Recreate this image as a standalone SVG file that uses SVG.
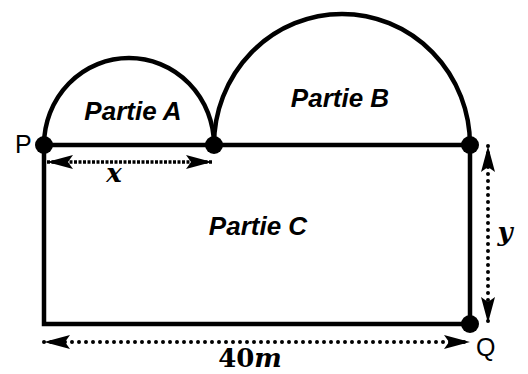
<svg xmlns="http://www.w3.org/2000/svg" width="528" height="374" viewBox="0 0 528 374">
  <defs>
    <style>
      .edge { fill: none; stroke: #000; stroke-width: 4.5; stroke-linecap: round; }
      .dot { fill: #000; }
      .lbl { font-family: "Liberation Sans", Arial, sans-serif; font-weight: bold; font-style: italic; font-size: 26px; fill: #000; }
      .pt { font-family: "Liberation Sans", Arial, sans-serif; font-size: 25px; fill: #000; }
      .math { font-family: "DejaVu Serif", "Liberation Serif", serif; font-weight: bold; font-size: 26px; fill: #000; }
      .dim { fill: none; stroke: #000; stroke-width: 4; stroke-linecap: round; stroke-dasharray: 0 7; }
      .dash { fill: none; stroke: #000; stroke-width: 3.5; stroke-dasharray: 3 1.5; }
    </style>
    <marker id="ah" markerUnits="userSpaceOnUse" markerWidth="32" markerHeight="18" refX="28" refY="9" orient="auto-start-reverse" viewBox="0 0 32 18">
      <path d="M28,9 L2,2 L7,9 L2,16 Z" fill="#000"/>
    </marker>
  </defs>

  <g id="partie-c">
    <path class="edge" d="M44,145 L44,324 L470,324 L470,145 Z"/>
    <text class="lbl" x="258" y="235" text-anchor="middle">Partie C</text>
  </g>
  <g id="partie-a">
    <path class="edge" d="M44,145 A85,87 0 0 1 214,145"/>
    <text class="lbl" x="133" y="120" text-anchor="middle">Partie A</text>
  </g>
  <g id="partie-b">
    <path class="edge" d="M214,145 A128,131 0 0 1 470,145"/>
    <text class="lbl" x="340" y="107" text-anchor="middle">Partie B</text>
  </g>

  <g id="point-p">
    <circle class="dot" cx="44" cy="145" r="9"/>
    <text class="pt" x="15" y="153">P</text>
  </g>
  <g id="point-m">
    <circle class="dot" cx="214" cy="145" r="9"/>
  </g>
  <g id="point-r">
    <circle class="dot" cx="470" cy="145" r="9"/>
  </g>
  <g id="point-q">
    <circle class="dot" cx="470" cy="324" r="9"/>
    <text class="pt" x="476" y="356">Q</text>
  </g>

  <g id="connectors">
    <line class="dash" x1="47" y1="162" x2="212" y2="162" marker-start="url(#ah)" marker-end="url(#ah)"/>
    <line class="dim" x1="488" y1="146" x2="488" y2="323" marker-start="url(#ah)" marker-end="url(#ah)"/>
    <line class="dim" x1="44" y1="342" x2="470" y2="342" marker-start="url(#ah)" marker-end="url(#ah)"/>
  </g>

  <g id="labels">
    <text class="math" x="114" y="182" text-anchor="middle" font-style="italic">x</text>
    <text class="math" x="505" y="241" text-anchor="middle" font-style="italic">y</text>
    <text class="math" x="250" y="367" text-anchor="middle" font-size="23">40<tspan font-style="italic">m</tspan></text>
  </g>
</svg>
